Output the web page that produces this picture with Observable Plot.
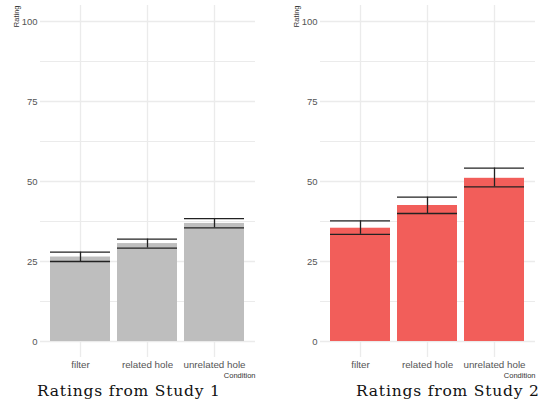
<!DOCTYPE html>
<html>
<head>
<meta charset="utf-8">
<script src="https://cdn.jsdelivr.net/npm/d3@7"></script>
<script src="https://cdn.jsdelivr.net/npm/@observablehq/plot@0.6"></script>
<style>
  html, body { margin: 0; padding: 0; background: #fff; }
  #wrap { position: relative; width: 539px; height: 405px; overflow: hidden; }
  .panel { position: absolute; top: 0; }
  .cap { position: absolute; font-family: "DejaVu Serif", "Liberation Serif", serif; font-size: 15.5px; letter-spacing: 0.8px; line-height: 1; color: #111; white-space: nowrap; }
</style>
</head>
<body>
<div id="wrap">
  <div class="panel" id="p1" style="left:0px"></div>
  <div class="panel" id="p2" style="left:280px"></div>
  <div class="cap" id="c1" style="left:37px; top:384px">Ratings from Study 1</div>
  <div class="cap" id="c2" style="left:356px; top:384px">Ratings from Study 2</div>
</div>
<script>
const conditions = ["filter", "related hole", "unrelated hole"];
const study1Mean = [26.4, 30.6, 36.9];
const study1Lo = [25.0, 29.2, 35.5];
const study1Hi = [27.9, 32.0, 38.4];
const study2Mean = [35.4, 42.5, 51.0];
const study2Lo = [33.5, 40.0, 48.3];
const study2Hi = [37.7, 45.1, 54.2];
const yTicks = [0, 25, 50, 75, 100];
const yMinor = [12.5, 37.5, 62.5, 87.5];

function makePanel(means, los, his, color) {
  const data = conditions.map((c, i) => ({condition: c, mean: means[i], lo: los[i], hi: his[i]}));
  return Plot.plot({
    width: 259,
    height: 385,
    marginLeft: 40,
    marginRight: 4,
    marginTop: 5,
    marginBottom: 28,
    style: {fontFamily: "Liberation Sans, Arial, sans-serif", background: "white"},
    x: {domain: conditions, paddingInner: 0.1, paddingOuter: 0.15, label: null},
    y: {domain: [-5, 105], label: null},
    marks: [
      Plot.ruleY(yMinor, {stroke: "#ebebeb", strokeWidth: 1}),
      Plot.ruleY(yTicks, {stroke: "#ebebeb", strokeWidth: 1.3}),
      Plot.ruleX(conditions, {x: d => d, stroke: "#ebebeb", strokeWidth: 1.3}),
      Plot.barY(data, {x: "condition", y1: 0, y2: "mean", fill: color}),
      Plot.ruleX(data, {x: "condition", y1: "lo", y2: "hi", stroke: "#222", strokeWidth: 1.3}),
      Plot.tickY(data, {x: "condition", y: "lo", stroke: "#222", strokeWidth: 1.3}),
      Plot.tickY(data, {x: "condition", y: "hi", stroke: "#222", strokeWidth: 1.3}),
      Plot.axisY({ticks: yTicks, tickSize: 0, tickPadding: 3, fontSize: 9.5, color: "#555", label: null}),
      Plot.axisX({tickSize: 0, tickPadding: 4, fontSize: 9.8, color: "#555", label: null}),
      Plot.text(["Rating"], {frameAnchor: "top-left", rotate: -90, textAnchor: "end", dx: -27, fontSize: 7.5, fill: "#333"}),
      Plot.text(["Condition"], {frameAnchor: "bottom-right", textAnchor: "end", dy: 20.5, fontSize: 7.5, fill: "#333"})
    ]
  });
}

document.getElementById("p1").appendChild(makePanel(study1Mean, study1Lo, study1Hi, "#bebebe"));
document.getElementById("p2").appendChild(makePanel(study2Mean, study2Lo, study2Hi, "#f25e5a"));
</script>
</body>
</html>
